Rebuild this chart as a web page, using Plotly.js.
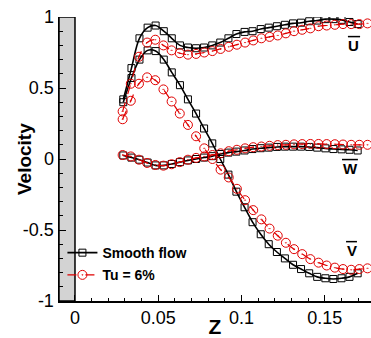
<!DOCTYPE html>
<html>
<head>
<meta charset="utf-8">
<script src="https://cdn.plot.ly/plotly-3.0.1.min.js"></script>
<style>html,body{margin:0;padding:0;background:#fff;}#chart{width:371px;height:338px;}</style>
</head>
<body>
<div id="chart"></div>
<script>
// Smooth flow (black squares)
const zSmooth = [0.029,0.0339,0.0387,0.0436,0.0484,0.0533,0.0581,0.063,0.0678,0.0727,0.0775,0.0824,0.0872,0.0921,0.0969,0.1018,0.1066,0.1115,0.1163,0.1212,0.126,0.1309,0.1357,0.1406,0.1454,0.1503,0.1551,0.16,0.1648,0.1697];
const uSmooth = [0.42,0.64,0.85,0.925,0.94,0.90,0.85,0.80,0.785,0.78,0.785,0.80,0.82,0.85,0.88,0.895,0.90,0.915,0.925,0.935,0.945,0.955,0.96,0.97,0.975,0.985,0.985,0.98,0.965,0.95];
const vSmooth = [0.40,0.57,0.70,0.765,0.76,0.70,0.61,0.52,0.42,0.32,0.215,0.11,0.0,-0.11,-0.23,-0.34,-0.445,-0.53,-0.60,-0.655,-0.70,-0.745,-0.775,-0.805,-0.83,-0.84,-0.845,-0.84,-0.83,-0.805];
const wSmooth = [0.025,0.01,-0.005,-0.025,-0.045,-0.045,-0.035,-0.022,-0.01,0.0,0.01,0.02,0.035,0.045,0.052,0.06,0.07,0.076,0.08,0.085,0.087,0.087,0.087,0.085,0.08,0.075,0.07,0.068,0.065,0.06];

// Tu = 6% (red circles)
const zTu = [0.0286,0.0335,0.0384,0.0433,0.0482,0.0531,0.058,0.0629,0.0678,0.0727,0.0776,0.0825,0.0874,0.0923,0.0972,0.1021,0.107,0.1119,0.1168,0.1217,0.1266,0.1315,0.1364,0.1413,0.1462,0.1511,0.156,0.1609,0.1658,0.1707,0.1756];
const uTu = [0.335,0.53,0.72,0.82,0.84,0.80,0.765,0.745,0.735,0.74,0.75,0.76,0.775,0.79,0.805,0.82,0.835,0.85,0.86,0.87,0.885,0.90,0.91,0.92,0.935,0.94,0.945,0.95,0.95,0.95,0.955];
const vTu = [0.28,0.41,0.53,0.575,0.555,0.49,0.405,0.32,0.24,0.16,0.075,0.0,-0.075,-0.13,-0.21,-0.29,-0.36,-0.425,-0.49,-0.54,-0.59,-0.635,-0.67,-0.705,-0.73,-0.75,-0.765,-0.775,-0.78,-0.775,-0.77];
const wTu = [0.028,0.018,-0.005,-0.028,-0.042,-0.047,-0.037,-0.022,-0.005,0.008,0.018,0.028,0.04,0.055,0.065,0.075,0.083,0.088,0.093,0.098,0.10,0.103,0.105,0.106,0.106,0.105,0.104,0.102,0.10,0.10,0.10];

const xTickVals = [0,0.05,0.1,0.15];
const xTickText = ['0','0.05','0.1','0.15'];
const yTickVals = [-1,-0.5,0,0.5,1];
const yTickText = ['-1','-0.5','0','0.5','1'];

const FONT = 'Arial, "Liberation Sans", sans-serif';

function blackTrace(y, show) {
  return {x: zSmooth, y: y, type:'scatter', mode:'lines+markers', name:'Smooth flow',
    legendgroup:'smooth', showlegend: show,
    line:{color:'#000', width:1.6, shape:'spline', smoothing:1},
    marker:{symbol:'square-open', size:7, color:'#000', line:{width:1, color:'#000'}}};
}
function redTrace(y, show) {
  return {x: zTu, y: y, type:'scatter', mode:'lines+markers', name:'Tu = 6%',
    legendgroup:'tu', showlegend: show,
    line:{color:'#e00000', width:1.2, dash:'dash', shape:'spline', smoothing:1},
    marker:{symbol:'circle-open-dot', size:9, color:'#e00000', line:{width:1, color:'#e00000'}}};
}

const data = [
  blackTrace(uSmooth, true), blackTrace(vSmooth, false), blackTrace(wSmooth, false),
  redTrace(uTu, true), redTrace(vTu, false), redTrace(wTu, false)
];

const overline = (x0, x1, y) => ({type:'line', xref:'paper', yref:'paper', x0:x0, x1:x1, y0:y, y1:y, line:{color:'#000', width:1.5}});
const label = (x, y, t) => ({xref:'paper', yref:'paper', x:x, y:y, xanchor:'center', yanchor:'middle', text:t, showarrow:false,
  font:{family:FONT, size:15, weight:'bold', color:'#000'}});

const layout = {
  width:371, height:338,
  margin:{l:59, r:0, t:17, b:37},
  paper_bgcolor:'#fff', plot_bgcolor:'#fff',
  font:{family:FONT, color:'#000'},
  showlegend:true,
  legend:{x:0.011, xanchor:'left', y:0.035, yanchor:'bottom', bgcolor:'rgba(0,0,0,0)',
    font:{family:FONT, size:14, weight:'bold', color:'#000'}, tracegroupgap:1},
  xaxis:{range:[-0.0096,0.1777], showgrid:false, zeroline:false, showline:true, linecolor:'#000', linewidth:1.5,
    ticks:'inside', ticklen:6, tickwidth:1, tickcolor:'#000',
    tickvals:xTickVals, ticktext:xTickText, tickfont:{family:FONT, size:18, color:'#000'},
    minor:{dtick:0.01, tick0:0, ticks:'inside', ticklen:3, tickcolor:'#000', showgrid:false},
    title:{text:'Z', font:{family:FONT, size:21, weight:'bold', color:'#000'}, standoff:2}},
  yaxis:{range:[-1,1], showgrid:false, zeroline:false, showline:true, linecolor:'#000', linewidth:1.5,
    ticks:'inside', ticklen:7, tickwidth:1, tickcolor:'#000',
    tickvals:yTickVals, ticktext:yTickText, tickfont:{family:FONT, size:18, color:'#000'},
    minor:{dtick:0.1, tick0:0, ticks:'inside', ticklen:4, tickcolor:'#000', showgrid:false}},
  shapes:[
    {type:'rect', xref:'x', yref:'y', x0:-0.0096, x1:0, y0:-1, y1:1, fillcolor:'#d3d3d3', line:{color:'#000', width:1.5}, layer:'below'},
    overline(0.926, 0.965, 0.931),
    overline(0.907, 0.958, 0.498),
    overline(0.920, 0.955, 0.209)
  ],
  annotations:[
    label(0.9455, 0.900, 'U'),
    label(0.934, 0.466, 'W'),
    label(0.9375, 0.178, 'V'),
    {xref:'paper', yref:'paper', x:-0.112, y:0.5, xanchor:'center', yanchor:'middle', textangle:-90, text:'Velocity', showarrow:false,
      font:{family:FONT, size:19, weight:'bold', color:'#000'}}
  ]
};

Plotly.newPlot('chart', data, layout, {displayModeBar:false, staticPlot:true});
</script>
</body>
</html>
